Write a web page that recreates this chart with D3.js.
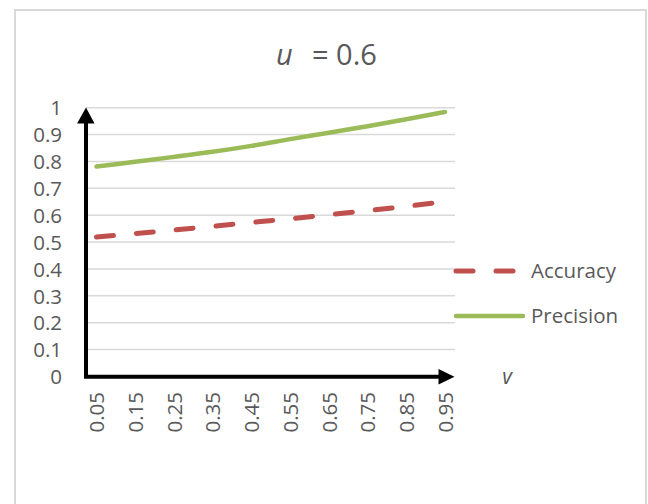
<!DOCTYPE html>
<html>
<head>
<meta charset="utf-8">
<script src="https://cdn.jsdelivr.net/npm/d3@7"></script>
<style>
  html, body { margin: 0; padding: 0; background: #fff; }
  svg { display: block; }
  text { font-family: "Open Sans", sans-serif; fill: #595959; }
</style>
</head>
<body>
<script>
// v values along the category axis
const vLabels = ["0.05", "0.15", "0.25", "0.35", "0.45", "0.55", "0.65", "0.75", "0.85", "0.95"];
// series values at each v
const accuracy = [0.519, 0.532, 0.545, 0.559, 0.573, 0.587, 0.602, 0.617, 0.633, 0.650];
const precision = [0.781, 0.799, 0.817, 0.836, 0.858, 0.883, 0.907, 0.931, 0.957, 0.984];
const yTicks = [0, 0.1, 0.2, 0.3, 0.4, 0.5, 0.6, 0.7, 0.8, 0.9, 1];
const seriesNames = ["Accuracy", "Precision"];

const W = 648, H = 504;
const FS = 20.5;
const svg = d3.select("body").append("svg").attr("width", W).attr("height", H);

// chart frame
svg.append("rect")
  .attr("x", 15).attr("y", 10).attr("width", 631).attr("height", 520)
  .attr("fill", "#fff").attr("stroke", "#d9d9d9").attr("stroke-width", 2);

const x0 = 86, x1 = 455;
const x = d3.scalePoint().domain(vLabels).range([96.5, 445]);
const y = d3.scaleLinear().domain([0, 1]).range([376.5, 107.7]);

// title: italic u, then the value
svg.append("text").attr("x", 276).attr("y", 65).attr("font-size", 29)
  .attr("font-style", "italic").text("u");
svg.append("text").attr("x", 312).attr("y", 65).attr("font-size", 29).text("= 0.6");

// horizontal gridlines
svg.append("g").selectAll("line").data(yTicks.filter(d => d > 0)).join("line")
  .attr("x1", x0).attr("x2", x1)
  .attr("y1", d => y(d)).attr("y2", d => y(d))
  .attr("stroke", "#d9d9d9").attr("stroke-width", 1.5);

// y tick labels
const yAxis = d3.axisLeft(y).tickValues(yTicks).tickSize(0).tickPadding(0)
  .tickFormat(d => d3.format("~g")(d));
const gy = svg.append("g").attr("transform", "translate(62,0)").call(yAxis);
gy.select(".domain").remove();
gy.selectAll("text").attr("font-size", FS).attr("fill", "#595959")
  .attr("font-family", "'Open Sans', sans-serif").attr("dy", "0.35em");

// x tick labels, rotated
const xAxis = d3.axisBottom(x).tickSize(0).tickPadding(0);
const gx = svg.append("g").attr("transform", "translate(0,392)").call(xAxis);
gx.select(".domain").remove();
gx.selectAll("text").attr("font-size", FS).attr("fill", "#595959")
  .attr("font-family", "'Open Sans', sans-serif")
  .attr("transform", "rotate(-90)")
  .attr("text-anchor", "end").attr("x", 0).attr("y", 0).attr("dy", "0.35em")
  .attr("dx", 0);

// series lines
const line = d3.line().x((d, i) => x(vLabels[i])).y(d => y(d)).curve(d3.curveMonotoneX);
svg.append("path").datum(precision).attr("d", line)
  .attr("fill", "none").attr("stroke", "#9bbb59").attr("stroke-width", 4.5)
  .attr("stroke-linecap", "round");
svg.append("path").datum(accuracy).attr("d", line)
  .attr("fill", "none").attr("stroke", "#c0504d").attr("stroke-width", 5)
  .attr("stroke-linecap", "round").attr("stroke-dasharray", "17,23");

// axes with arrowheads
svg.append("line").attr("x1", x0).attr("x2", x0).attr("y1", 378).attr("y2", 120)
  .attr("stroke", "#000").attr("stroke-width", 4);
svg.append("path").attr("d", "M77,123.5 L94.5,123.5 L86,107.5 Z").attr("fill", "#000");
svg.append("line").attr("x1", 84).attr("x2", 442).attr("y1", 376.7).attr("y2", 376.7)
  .attr("stroke", "#000").attr("stroke-width", 4);
svg.append("path").attr("d", "M438.5,369 L438.5,384.5 L454.5,376.7 Z").attr("fill", "#000");

// v label
svg.append("text").attr("x", 507).attr("y", 376.7).attr("dy", "0.35em")
  .attr("text-anchor", "middle").attr("font-size", 21).attr("font-style", "italic").text("v");

// legend
const legend = svg.append("g");
legend.append("line").attr("x1", 456).attr("x2", 516).attr("y1", 271).attr("y2", 271)
  .attr("stroke", "#c0504d").attr("stroke-width", 5).attr("stroke-linecap", "round")
  .attr("stroke-dasharray", "17,23");
legend.append("line").attr("x1", 456).attr("x2", 523).attr("y1", 316).attr("y2", 316)
  .attr("stroke", "#9bbb59").attr("stroke-width", 4.5).attr("stroke-linecap", "round");
legend.selectAll("text.lg").data(seriesNames).join("text").attr("class", "lg")
  .attr("x", 531).attr("y", (d, i) => i === 0 ? 271 : 316).attr("dy", "0.35em")
  .attr("font-size", FS).text(d => d);
</script>
</body>
</html>
